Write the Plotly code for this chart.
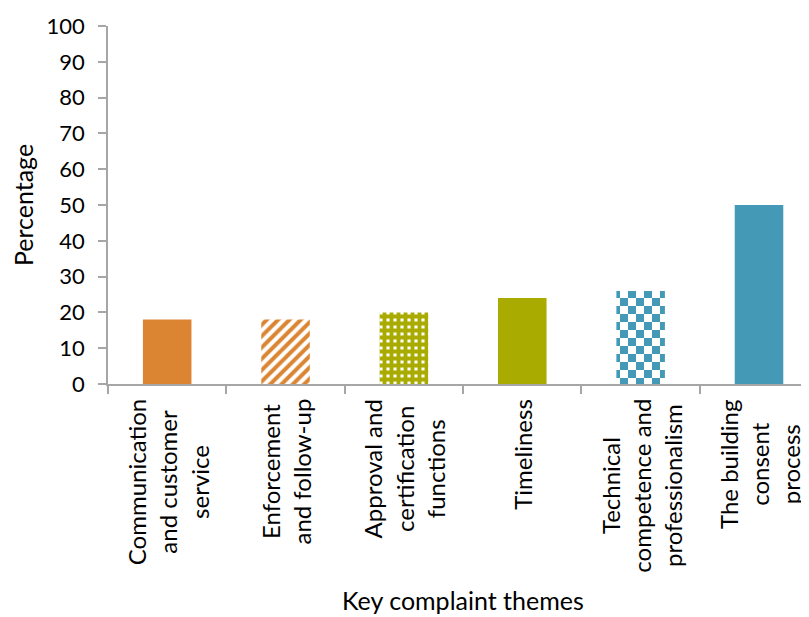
import plotly.graph_objects as go

categories = [
    "Communication<br>and customer<br>service",
    "Enforcement<br>and follow-up",
    "Approval and<br>certification<br>functions",
    "Timeliness",
    "Technical<br>competence and<br>professionalism",
    "The building<br>consent<br>process",
]
percentages = [18, 18, 20, 24, 26, 50]
y_ticks = list(range(0, 101, 10))

ORANGE = "#DB8533"
OLIVE = "#A9AB00"
BLUE = "#4499B7"
AXIS_GREY = "#A6A6A6"
FONT = "Lato"

colors = [ORANGE, ORANGE, OLIVE, OLIVE, BLUE, BLUE]
solid = dict(shape="")
patterns = [
    solid,
    dict(shape="/", fgcolor=ORANGE, bgcolor="white", size=8, solidity=0.5, fillmode="replace"),
    dict(shape="+", fgcolor=OLIVE, bgcolor="white", size=7, solidity=0.8, fillmode="replace"),
    solid,
    dict(shape=".", fgcolor=BLUE, bgcolor="white", size=16, solidity=0.5, fillmode="replace"),
    solid,
]

# checkerboard for the technical bar, if the installed plotly knows custom paths
try:
    go.bar.marker.Pattern(path="M0,0H8V8H0Z")
    patterns[4] = dict(path="M0,0H8V8H0ZM8,8H16V16H8Z", fgcolor=BLUE, bgcolor="white",
                       size=16, fillmode="replace")
except Exception:
    pass

x_keys = [f"c{i}" for i in range(len(categories))]

fig = go.Figure()
for key, value, color, pattern in zip(x_keys, percentages, colors, patterns):
    fig.add_trace(go.Bar(
        x=[key], y=[value],
        marker=dict(color=color, line=dict(width=0), pattern=pattern),
        width=0.41,
        showlegend=False,
    ))

# page body has an 8px margin, so the figure sits 8px right/down of the window corner
for key, label in zip(x_keys, categories):
    fig.add_annotation(
        x=key, y=0, xref="x", yref="paper",
        text=label, textangle=-90, showarrow=False,
        xanchor="center", yanchor="top", yshift=-13, align="center",
        font=dict(family=FONT, size=24, color="black"),
    )

fig.add_annotation(
    x=0.5, y=-0.65, xref="paper", yref="paper",
    text="Key complaint themes", showarrow=False,
    xanchor="center", yanchor="bottom",
    font=dict(family=FONT, size=25, color="black"),
)

fig.update_layout(
    width=809, height=617,
    margin=dict(l=100, r=0, t=18, b=241),
    plot_bgcolor="white", paper_bgcolor="white",
    barmode="overlay",
    font=dict(family=FONT, color="black"),
    xaxis=dict(
        type="category", categoryorder="array", categoryarray=x_keys,
        range=[-0.5, 5.49],
        showticklabels=False, tickson="boundaries",
        ticks="outside", ticklen=8, tickcolor=AXIS_GREY, tickwidth=1.5,
        showline=True, linecolor=AXIS_GREY, linewidth=1.5,
        showgrid=False, zeroline=False,
    ),
    yaxis=dict(
        range=[0, 100], tickvals=y_ticks,
        ticks="outside", ticklen=8, tickcolor=AXIS_GREY, tickwidth=1.5,
        ticklabelstandoff=9,
        showline=True, linecolor=AXIS_GREY, linewidth=1.5,
        showgrid=False, zeroline=False,
        tickfont=dict(family=FONT, size=22, color="black"),
        title=dict(text="Percentage", font=dict(family=FONT, size=25, color="black"), standoff=11),
    ),
)

fig.write_html("out.html")
